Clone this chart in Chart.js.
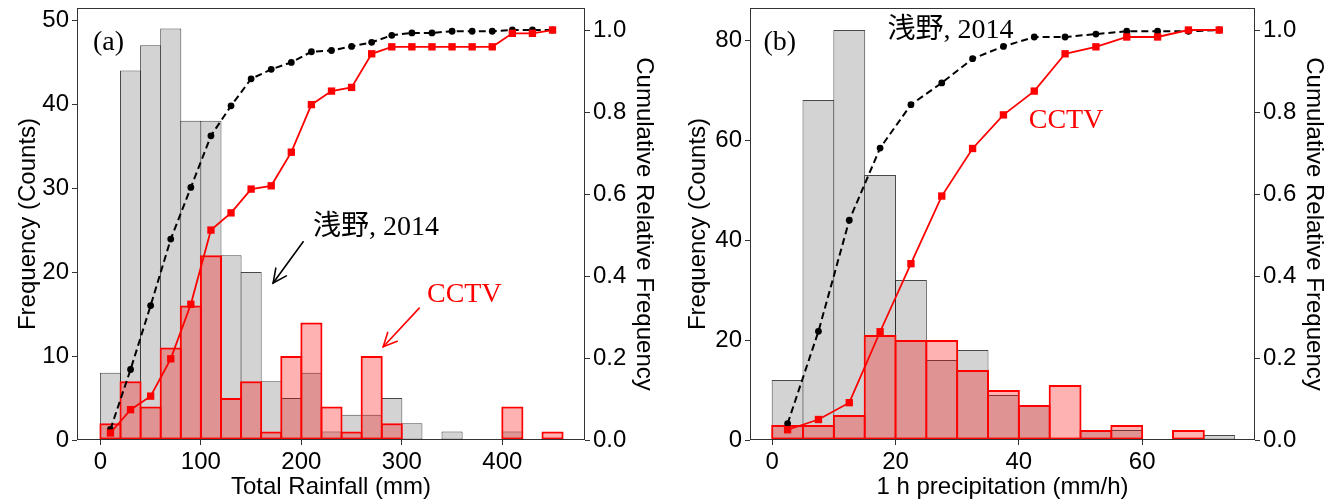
<!DOCTYPE html>
<html><head><meta charset="utf-8">
<script src="https://cdn.jsdelivr.net/npm/chart.js@4.4.1/dist/chart.umd.min.js"></script>
<style>
html,body{margin:0;padding:0;background:#fff;}
#wrap{position:relative;width:1341px;height:503px;overflow:hidden;}
#ca{position:absolute;left:0;top:0;}
#cb{position:absolute;left:670px;top:0;}
</style></head><body>
<div id="wrap"><canvas id="ca" width="670" height="503"></canvas><canvas id="cb" width="671" height="503"></canvas></div>
<script>
// ---------- Panel (a): Total Rainfall (mm), 20 mm bins ----------
const rainBinMids = [10,30,50,70,90,110,130,150,170,190,210,230,250,270,290,310,330,350,370,390,410,430,450];
const rainCountsAsano = [8,44,47,49,38,38,22,20,7,5,8,1,3,3,5,2,0,1,0,0,1,0,0];
const rainCountsCCTV  = [2,7,4,11,16,22,5,7,1,10,14,4,1,10,2,0,0,0,0,0,4,0,1];
const rainCumAsano = [0.026,0.172,0.328,0.490,0.616,0.742,0.815,0.881,0.904,0.921,0.947,0.950,0.960,0.970,0.987,0.993,0.993,0.997,0.997,0.997,1.0,1.0,1.0];
const rainCumCCTV  = [0.017,0.074,0.107,0.198,0.331,0.512,0.554,0.612,0.620,0.702,0.818,0.851,0.860,0.942,0.959,0.959,0.959,0.959,0.959,0.959,0.992,0.992,1.0];
const rainTicksX = [0,100,200,300,400];
const countTicksA = [0,10,20,30,40,50];

// ---------- Panel (b): 1 h precipitation (mm/h), 5 mm/h bins ----------
const precBinMids = [2.5,7.5,12.5,17.5,22.5,27.5,32.5,37.5,42.5,47.5,52.5,57.5,62.5,67.5,72.5];
const precCountsAsano = [12,68,82,53,32,16,18,9,7,0,2,2,0,0,1];
const precCountsCCTV  = [3,3,5,21,20,20,14,10,7,11,2,3,0,2,0];
const precCumAsano = [0.040,0.265,0.536,0.712,0.818,0.871,0.930,0.960,0.983,0.983,0.990,0.997,0.997,0.997,1.0];
const precCumCCTV  = [0.025,0.050,0.091,0.264,0.430,0.595,0.711,0.793,0.851,0.942,0.959,0.983,0.983,1.0,1.0];
const precTicksX = [0,20,40,60];
const countTicksB = [0,20,40,60,80];

const cumTicks = [0,0.2,0.4,0.6,0.8,1.0];

// ---------- text labels ----------
const labelAsano = '浅野, 2014';
const labelCCTV = 'CCTV';

const SANS = "'Liberation Sans', Arial, Helvetica, sans-serif";
const SERIF = "'Liberation Serif', 'DejaVu Serif', 'Noto Sans CJK JP', serif";

function pts(xs, ys){ return xs.map((x,i)=>({x:x, y:ys[i]})); }
function fixedTicks(list){ return s => { s.ticks = list.map(v=>({value:v})); }; }

const annotPlugin = {
  id:'annot',
  afterDraw(chart){
    const ctx = chart.ctx, a = chart.chartArea;
    const sx = chart.scales.x, sy = chart.scales.y;
    ctx.save();
    ctx.strokeStyle = '#333'; ctx.lineWidth = 1;
    ctx.strokeRect(Math.round(a.left)+0.5, Math.round(a.top)+0.5, Math.round(a.right-a.left)-1, Math.round(a.bottom-a.top)-1);
    const an = chart.options.plugins.annot;
    (an.texts||[]).forEach(t=>{
      ctx.font = t.size + 'px ' + SERIF;
      ctx.fillStyle = t.color; ctx.textBaseline = 'alphabetic'; ctx.textAlign = 'left';
      ctx.fillText(t.text, sx.getPixelForValue(t.x), sy.getPixelForValue(t.y));
    });
    (an.arrows||[]).forEach(r=>{
      const x0 = sx.getPixelForValue(r.x0), y0 = sy.getPixelForValue(r.y0);
      const x1 = sx.getPixelForValue(r.x1), y1 = sy.getPixelForValue(r.y1);
      ctx.strokeStyle = r.color; ctx.lineWidth = 1.6; ctx.lineCap='round';
      ctx.beginPath(); ctx.moveTo(x0,y0); ctx.lineTo(x1,y1); ctx.stroke();
      const ang = Math.atan2(y1-y0, x1-x0), L = 15, h = 0.45;
      ctx.beginPath();
      ctx.moveTo(x1 - L*Math.cos(ang-h), y1 - L*Math.sin(ang-h));
      ctx.lineTo(x1, y1);
      ctx.lineTo(x1 - L*Math.cos(ang+h), y1 - L*Math.sin(ang+h));
      ctx.stroke();
    });
    ctx.restore();
  }
};

function axisCommon(){
  return {
    grid:{display:true, drawOnChartArea:false, drawTicks:true, tickLength:5, color:'#333', tickColor:'#333', offset:false},
    border:{display:false},
    ticks:{font:{family:SANS, size:24}, color:'#000', padding:3, autoSkip:false, maxRotation:0}
  };
}
function fitV(w){ return s => { s.width = w; s.paddingTop = 0; s.paddingBottom = 0; }; }
function fitH(h){ return s => { s.height = h; s.paddingLeft = 0; s.paddingRight = 0; }; }

function buildChart(canvas, cfg){
  const xo = axisCommon(), yo = axisCommon(), y2o = axisCommon();
  return new Chart(canvas, {
    type:'bar',
    data:{ datasets:[
      {type:'line', label:'CCTV cumulative', data:pts(cfg.mids, cfg.cumC), xAxisID:'x', yAxisID:'y2',
       borderColor:'#ff0000', backgroundColor:'#ff0000', borderWidth:1.8, tension:0,
       pointStyle:'rect', pointRadius:5.2, pointBorderWidth:0, pointBackgroundColor:'#ff0000', order:0},
      {type:'line', label:'Asano cumulative', data:pts(cfg.mids, cfg.cumA), xAxisID:'x', yAxisID:'y2',
       borderColor:'#000', backgroundColor:'#000', borderWidth:2, borderDash:[7,4], tension:0,
       pointStyle:'circle', pointRadius:3.4, pointBorderWidth:0, pointBackgroundColor:'#000', order:1},
      {type:'bar', label:'CCTV', data:pts(cfg.mids, cfg.countsC), xAxisID:'x', yAxisID:'y',
       backgroundColor:'rgba(255,0,0,0.3)', borderColor:'#ff0000', borderWidth:2, borderSkipped:false,
       grouped:false, barPercentage:cfg.redPct, categoryPercentage:1, order:2},
      {type:'bar', label:'浅野, 2014', data:pts(cfg.mids, cfg.countsA), xAxisID:'x', yAxisID:'y',
       backgroundColor:'#d3d3d3', borderColor:'rgba(40,40,40,0.85)', borderWidth:1, borderSkipped:false,
       grouped:false, barPercentage:cfg.grayPct, categoryPercentage:1, order:3}
    ]},
    options:{
      responsive:false, devicePixelRatio:1, animation:false,
      layout:{padding:{top:8, left:0, right:0, bottom:0}},
      plugins:{legend:{display:false}, tooltip:{enabled:false},
        annot:{texts:cfg.texts, arrows:cfg.arrows}},
      scales:{
        x:Object.assign(xo, {type:'linear', position:'bottom', min:cfg.xmin, max:cfg.xmax, offset:false,
          afterBuildTicks:fixedTicks(cfg.xticks),
          title:{display:true, text:cfg.xtitle, font:{family:SANS, size:24}, color:'#000', padding:{top:0, bottom:1}},
          afterFit:fitH(63)}),
        y:Object.assign(yo, {type:'linear', position:'left', min:0, max:cfg.ymax,
          afterBuildTicks:fixedTicks(cfg.yticks),
          title:{display:true, text:'Frequency (Counts)', font:{family:SANS, size:24}, color:'#000', padding:{top:cfg.ytPad, bottom:0}},
          afterFit:fitV(cfg.yw)}),
        y2:Object.assign(y2o, {type:'linear', position:'right', min:0, max:1.0537,
          afterBuildTicks:fixedTicks(cumTicks),
          title:{display:true, text:'Cumulative Relative Frequency', font:{family:SANS, size:24}, color:'#000', padding:{top:cfg.y2tPad, bottom:0}},
          afterFit:fitV(cfg.y2w)})
      }
    },
    plugins:[annotPlugin]
  });
}
Chart.defaults.font.family = SANS;

const chartA = buildChart(document.getElementById('ca'), {
  mids:rainBinMids, countsA:rainCountsAsano, countsC:rainCountsCCTV, cumA:rainCumAsano, cumC:rainCumCCTV,
  xmin:-23.3, xmax:482.3, xticks:rainTicksX, yticks:countTicksA, ymax:51.43,
  xtitle:'Total Rainfall (mm)', yw:77, y2w:85, ytPad:14, y2tPad:12, grayPct:1.05, redPct:1.1,
  texts:[
    {text:'(a)', x:-7.4, y:46.4, size:28, color:'#000'},
    {text:labelAsano, x:211.7, y:24.4, size:28, color:'#000'},
    {text:labelCCTV, x:325, y:16.4, size:28, color:'#ff0000'}
  ],
  arrows:[
    {x0:201.8, y0:23.6, x1:171.9, y1:18.7, color:'#000'},
    {x0:317.3, y0:15.7, x1:281.5, y1:11.1, color:'#ff0000'}
  ]
});
const chartB = buildChart(document.getElementById('cb'), {
  mids:precBinMids, countsA:precCountsAsano, countsC:precCountsCCTV, cumA:precCumAsano, cumC:precCumCCTV,
  xmin:-3.6, xmax:78.3, xticks:precTicksX, yticks:countTicksB, ymax:86.4,
  xtitle:'1 h precipitation (mm/h)', yw:80, y2w:86, ytPad:14, y2tPad:13, grayPct:1.033, redPct:1.065,
  texts:[
    {text:'(b)', x:-1.43, y:78, size:28, color:'#000'},
    {text:labelAsano, x:18.7, y:80.5, size:28, color:'#000'},
    {text:labelCCTV, x:41.6, y:62.4, size:28, color:'#ff0000'}
  ],
  arrows:[]
});
[chartA, chartB].forEach(c=>{
  c.options.scales.y2.ticks.callback = v => Number(v).toFixed(1);
  c.update('none');
});
</script>
</body></html>
